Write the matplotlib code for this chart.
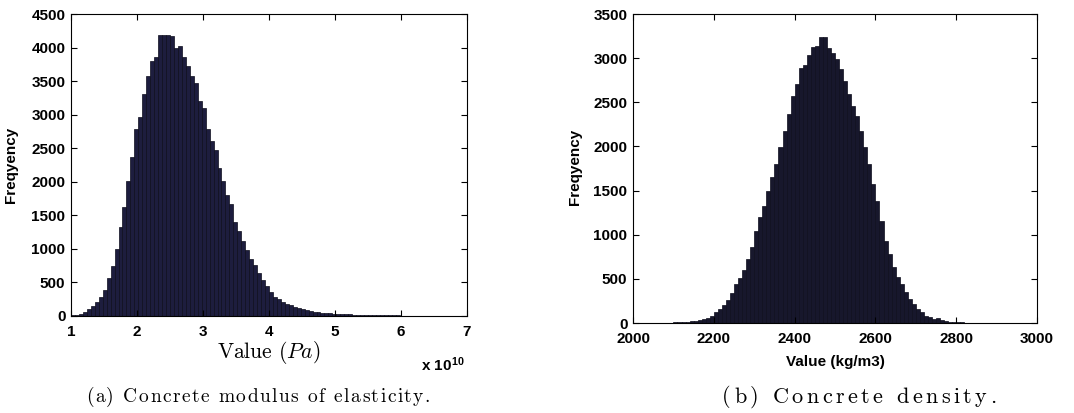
import matplotlib.pyplot as plt
from matplotlib.ticker import FuncFormatter
import numpy as np

# histogram counts, 100 equal bins each
# modulus of elasticity, bins from 1e10 to 7e10 Pa
e_counts = [10, 15, 30, 55, 105, 150, 205, 280, 390, 560,
            740, 1000, 1320, 1630, 2015, 2365, 2790, 2970, 3310, 3580,
            3805, 3865, 4180, 4185, 4185, 4175, 3990, 4030, 3860, 3720,
            3570, 3470, 3210, 3100, 2780, 2610, 2470, 2200, 2010, 1810,
            1670, 1400, 1260, 1110, 980, 850, 760, 640, 540, 440,
            360, 290, 250, 215, 185, 160, 135, 115, 97, 85,
            75, 66, 58, 50, 44, 40, 36, 32, 28, 25,
            23, 21, 19, 17, 15, 14, 13, 12, 11, 10,
            9, 8, 8, 7, 6, 6, 5, 5, 4, 4,
            4, 3, 3, 3, 2, 2, 2, 2, 1, 1]
e_range = (1e10, 7e10)

# density, bins from 2000 to 3000 kg/m3
rho_counts = [0, 0, 0, 1, 1, 2, 2, 3, 4, 5,
              6, 8, 10, 14, 18, 24, 35, 45, 60, 85,
              130, 160, 205, 265, 340, 445, 515, 600, 730, 860,
              1046, 1197, 1329, 1499, 1650, 1801, 1989, 2178, 2367, 2575,
              2707, 2890, 2920, 3040, 3130, 3140, 3235, 3235, 3120, 3060,
              2990, 2877, 2744, 2593, 2461, 2348, 2178, 1989, 1801, 1574,
              1385, 1159, 932, 781, 630, 517, 442, 347, 272, 215,
              159, 121, 83, 64, 45, 57, 30, 22, 16, 12,
              9, 7, 5, 4, 3, 3, 2, 2, 1, 1,
              1, 0, 0, 0, 0, 0, 0, 0, 0, 0]
rho_range = (2000, 3000)

captions = ['(a) Concrete modulus of elasticity.', '(b) Concrete density.']

plt.rcParams['font.family'] = ['Liberation Sans', 'DejaVu Sans']
plt.rcParams['mathtext.fontset'] = 'cm'

W, H = 1074, 413
fig = plt.figure(figsize=(W / 100, H / 100), dpi=100)
ax1 = fig.add_axes([0.0661, 0.2349, 0.3687, 0.7312])
ax2 = fig.add_axes([0.5894, 0.2179, 0.3762, 0.7482])

TICK_FS = 11


def draw_hist(ax, counts, lo, hi, face):
    edges = np.linspace(lo, hi, len(counts) + 1)
    ax.bar(edges[:-1], counts, width=edges[1] - edges[0], align='edge',
           color=face, edgecolor='#0d0d1c', linewidth=0.5)
    ax.set_xlim(lo, hi)
    ax.tick_params(direction='in', top=True, right=True, length=4,
                   width=0.8, labelsize=TICK_FS)
    ax.tick_params(axis='x', pad=6.5)
    ax.tick_params(axis='y', pad=4)
    for s in ax.spines.values():
        s.set_linewidth(0.8)
    ax.set_ylabel('Freqyency', fontsize=TICK_FS, fontweight='bold')


def bold_ticks(ax):
    for lab in ax.get_xticklabels() + ax.get_yticklabels():
        lab.set_fontweight('bold')


draw_hist(ax1, e_counts, *e_range, '#1d1d3e')
ax1.set_ylim(0, 4500)
ax1.set_yticks(np.arange(0, 4501, 500))
ax1.set_xticks(np.arange(1e10, 7.01e10, 1e10))
ax1.xaxis.set_major_formatter(FuncFormatter(lambda v, p: '%d' % round(v / 1e10)))
bold_ticks(ax1)
ax1.yaxis.set_label_coords(-0.134, 0.5)
xl = ax1.set_xlabel('Value $(Pa)$', fontname='cmr10', fontsize=15.5)
xl.set_verticalalignment('center')
ax1.xaxis.set_label_coords(0.5, -0.1225)
ax1.text(0.995, -0.162, r'x 10$^{\mathregular{10}}$', transform=ax1.transAxes,
         ha='right', va='center', fontsize=TICK_FS, fontweight='bold')

draw_hist(ax2, rho_counts, *rho_range, '#17172c')
ax2.set_ylim(0, 3500)
ax2.set_yticks(np.arange(0, 3501, 500))
ax2.set_xticks(np.arange(2000, 3001, 200))
bold_ticks(ax2)
ax2.yaxis.set_label_coords(-0.126, 0.505)
xl2 = ax2.set_xlabel('Value (kg/m3)', fontsize=TICK_FS, fontweight='bold')
xl2.set_verticalalignment('center')
ax2.xaxis.set_label_coords(0.5, -0.126)


# captions are typeset with letter spacing to fill a given pixel span
def spread_caption(s, x0, x1, y, **kw):
    r = fig.canvas.get_renderer()

    def width(t):
        tt = fig.text(0, 0, t + '|', **kw)
        w = tt.get_window_extent(r).width
        tt.remove()
        return w

    bar = width('')
    full = width(s) - bar
    extra = (x1 - x0 - full) / max(len(s) - 1, 1)
    for i, ch in enumerate(s):
        if ch == ' ':
            continue
        x = x0 + (width(s[:i]) - bar) + extra * i
        fig.text(x / W, 1 - y / H, ch, ha='left', va='center', **kw)


spread_caption(captions[0], 86, 430, 397, fontname='cmr10', fontsize=14)
spread_caption(captions[1], 722, 996, 397, fontname='cmr10', fontsize=16)

fig.savefig('out.png', dpi=100)
